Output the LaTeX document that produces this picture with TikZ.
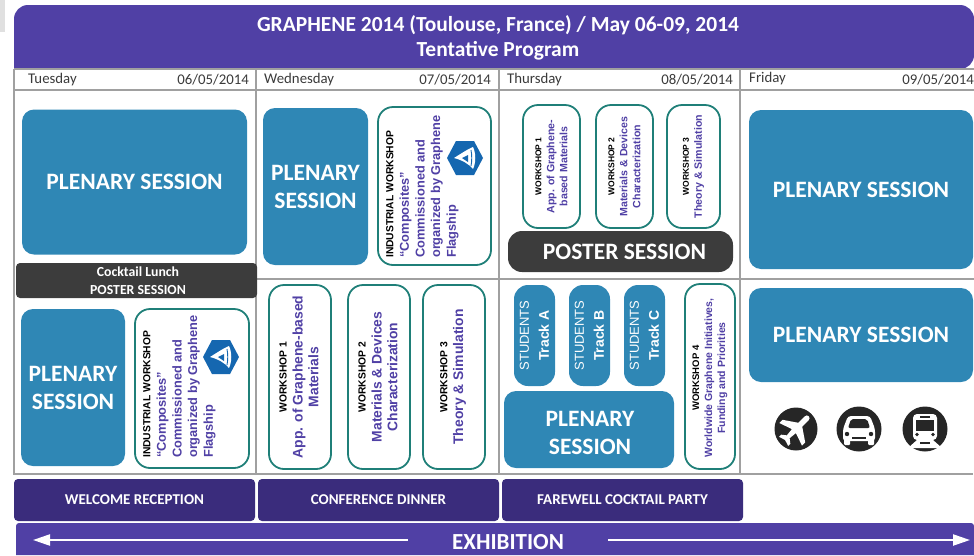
\documentclass[tikz,border=0pt]{standalone}
\usepackage{fontspec}
\setmainfont{Carlito}
\newfontfamily\arialf{Liberation Sans}
\usetikzlibrary{arrows.meta}
\definecolor{plen}{HTML}{2F87B5}
\definecolor{teal2}{HTML}{1F7F78}
\definecolor{dark}{HTML}{3C3C3C}
\definecolor{deep}{HTML}{3A2C7C}
\definecolor{head}{HTML}{5040A5}
\definecolor{txtp}{HTML}{5040A5}
\definecolor{gridc}{HTML}{A0A0A0}
\definecolor{daytxt}{HTML}{3A3A3A}
\definecolor{logob}{HTML}{1567B0}
\definecolor{iconc}{HTML}{262626}
\tikzset{
  gridline/.style={draw=gridc,line width=1.1pt},
  plenary/.style={fill=plen,rounded corners=12pt,text=white,font=\bfseries\fontsize{23.5}{28}\selectfont,align=center,inner sep=0pt},
  wsbox/.style={draw=teal2,line width=1.8pt,fill=white,rounded corners=15pt,inner sep=0pt,align=center},
  student/.style={fill=plen,rounded corners=14pt,inner sep=0pt,align=center,text=white,rotate=90,font=\arialf\fontsize{13}{20}\selectfont},
  deepbox/.style={fill=deep,rounded corners=4pt,text=white,inner sep=0pt,font=\bfseries\fontsize{15}{18}\selectfont},
  daytext/.style={text=daytxt,font=\fontsize{14.8}{17}\selectfont,inner sep=0pt},
  wstext/.style={rotate=90,align=center,inner sep=0pt,text=txtp,font=\arialf\bfseries\fontsize{13.9}{15.8}\selectfont},
  wsmall/.style={rotate=90,align=center,inner sep=0pt,text=txtp,font=\arialf\bfseries\fontsize{10.6}{13}\selectfont},
  iwtext/.style={rotate=90,align=left,anchor=north west,inner sep=0pt,text=txtp,font=\arialf\bfseries\fontsize{12.8}{15.6}\selectfont},
  icon/.style={circle,fill=iconc,inner sep=0pt,minimum size=43pt},
  hexlogo/.style={fill=logob},
}
\newcommand{\wh}[2][10.3]{{\color{black}\fontsize{#1}{10}\selectfont #2}}
\newcommand{\logohex}[2]{%
  \begin{scope}[shift={(#1,#2)}]
    \fill[hexlogo] (-18,0)--(-9,-17)--(9,-17)--(18,0)--(9,17)--(-9,17)--cycle;
    \fill[white] (-11,0) .. controls (-3,-5) and (3,-9) .. (8,-11) .. controls (11,-5) and (11,5) .. (8,11) .. controls (4,6) and (-3,2) .. (-11,0) -- cycle;
    \fill[logob] (-3,0) -- (3,-3) -- (3,4) -- cycle;
    \draw[logob,line width=.9pt] (6,-8) .. controls (7,-3) and (7,3) .. (6,8);
  \end{scope}}
\begin{document}
\begin{tikzpicture}[x=1pt,y=-1pt]
\useasboundingbox (0,0) rectangle (974,555);
\fill[black!12] (0,0) rectangle (5,32);

% header
\fill[head] (14,69) [rounded corners=14pt] -- (14,5) -- (974,5) -- (974,69) [sharp corners] -- cycle;
\node[text=white,align=center,inner sep=0pt,font=\bfseries\fontsize{21.5}{25}\selectfont] (title) at (498,38)
  {GRAPHENE 2014 (Toulouse, France) / May 06-09, 2014\\Tentative Program};

% grid
\draw[gridline] (14,69) -- (14,474) -- (973,474);
\draw[gridline] (14,69) -- (974,69);
\draw[gridline] (14,90) -- (974,90);
\draw[gridline] (257,279) -- (974,279);
\draw[gridline] (256,69) -- (256,474);
\draw[gridline] (499,69) -- (499,474);
\draw[gridline] (740,69) -- (740,474);

% day row
\node[daytext,anchor=west] (d1) at (28,80) {Tuesday};
\node[daytext,anchor=east] (e1) at (249,80) {06/05/2014};
\node[daytext,anchor=west] (d2) at (264,80) {Wednesday};
\node[daytext,anchor=east] (e2) at (491,80) {07/05/2014};
\node[daytext,anchor=west] (d3) at (507,80) {Thursday};
\node[daytext,anchor=east] (e3) at (733,80) {08/05/2014};
\node[daytext,anchor=west] (d4) at (749,79) {Friday};
\node[daytext,anchor=east] (e4) at (974,80) {09/05/2014};

% Tuesday
\node[plenary,minimum width=225pt,minimum height=145pt] (p1) at (134.5,182) {PLENARY SESSION};
\node[fill=dark,rounded corners=4pt,text=white,align=center,inner sep=0pt,minimum width=241pt,minimum height=35pt,font=\bfseries\fontsize{13.8}{17.5}\selectfont] (cock) at (136.5,280.5) {\hspace*{3pt}Cocktail Lunch\\\hspace*{3pt}POSTER SESSION};
\node[plenary,minimum width=104pt,minimum height=157pt] (p2) at (73,387.5) {PLENARY\\SESSION};
\node[wsbox,minimum width=114pt,minimum height=159pt] (iw1) at (192,388.5) {};
\node[iwtext] (iw1t) at (143,458) {\wh{INDUSTRIAL WORKSHOP}\\“Composites”\\Commissioned and\\organized by Graphene\\Flagship};
\logohex{221}{357}

% Wednesday
\node[plenary,minimum width=105pt,minimum height=157pt] (p3) at (315.5,186.5) {PLENARY\\SESSION};
\node[wsbox,minimum width=113pt,minimum height=158pt] (iw2) at (434.5,186) {};
\node[iwtext] (iw2t) at (386,258) {\wh{INDUSTRIAL WORKSHOP}\\“Composites”\\Commissioned and\\organized by Graphene\\Flagship};
\logohex{465}{158}

\node[wsbox,minimum width=62pt,minimum height=184pt] (w1) at (300,377) {};
\node[wstext] (w1t) at (299,377) {\wh{WORKSHOP 1}\\App. of Graphene-based\\Materials};
\node[wsbox,minimum width=62pt,minimum height=184pt] (w2) at (379,377) {};
\node[wstext] (w2t) at (378,377) {\wh{WORKSHOP 2}\\Materials \& Devices\\Characterization};
\node[wsbox,minimum width=62pt,minimum height=184pt] (w3) at (454,377) {};
\node[wstext] (w3t) at (453,377) {\wh{WORKSHOP 3}\\Theory \& Simulation};

% Thursday
\node[wsbox,minimum width=57pt,minimum height=123pt] (t1) at (551.5,166.5) {};
\node[wsmall] (t1t) at (551.5,166.5) {\wh[8.5]{WORKSHOP 1}\\App. of Graphene-\\based Materials};
\node[wsbox,minimum width=57pt,minimum height=123pt] (t2) at (624.5,166.5) {};
\node[wsmall] (t2t) at (624.5,166.5) {\wh[8.5]{WORKSHOP 2}\\Materials \& Devices\\Characterization};
\node[wsbox,minimum width=53pt,minimum height=123pt] (t3) at (693.5,166.5) {};
\node[wsmall] (t3t) at (693.5,166.5) {\wh[8.5]{WORKSHOP 3}\\Theory \& Simulation};
\node[fill=dark,rounded corners=14pt,text=white,inner sep=0pt,minimum width=225pt,minimum height=41pt,font=\bfseries\fontsize{23.5}{28}\selectfont] (post) at (620.5,251.5) {\hspace*{8pt}POSTER SESSION};

\node[student,minimum width=101pt,minimum height=41pt] (s1) at (534.5,335.5) {STUDENTS\\\fontsize{14}{20}\selectfont\textbf{Track A}};
\node[student,minimum width=101pt,minimum height=41pt] (s2) at (589.5,335.5) {STUDENTS\\\fontsize{14}{20}\selectfont\textbf{Track B}};
\node[student,minimum width=101pt,minimum height=41pt] (s3) at (644.5,335.5) {STUDENTS\\\fontsize{14}{20}\selectfont\textbf{Track C}};
\node[plenary,minimum width=170pt,minimum height=77pt] (p4) at (589,429.5) {};
\node[text=white,font=\bfseries\fontsize{23.5}{28}\selectfont,align=center,inner sep=0pt] (p4t) at (590,433) {PLENARY\\SESSION};
\node[wsbox,minimum width=50pt,minimum height=185pt] (w4) at (710,376.5) {};
\node[wsmall,anchor=center,font=\arialf\bfseries\fontsize{10.5}{13}\selectfont] (w4t) at (710,378) {\wh[9.5]{WORKSHOP 4}\\Worldwide Graphene Initiatives,\\Funding and Priorities};

% Friday
\node[plenary,minimum width=224pt,minimum height=159pt] (p5) at (861,189.5) {PLENARY SESSION};
\node[plenary,minimum width=224pt,minimum height=94pt] (p6) at (861,335) {PLENARY SESSION};

\node[icon] (plane) at (796,429) {};
\begin{scope}[shift={(plane.center)},rotate=-45]
  \fill[white] (-2.8,-15) .. controls (-2.8,-19) and (2.8,-19) .. (2.8,-15) -- (2.8,-6) -- (16,3) -- (16,7.5) -- (2.8,3) -- (2,11) -- (6.5,14.5) -- (6.5,17.5) -- (0,15.5) -- (-6.5,17.5) -- (-6.5,14.5) -- (-2,11) -- (-2.8,3) -- (-16,7.5) -- (-16,3) -- (-2.8,-6) -- cycle;
\end{scope}
\node[icon,minimum size=45pt] (car) at (859,429) {};
\begin{scope}[shift={(car.center)}]
  \fill[white,rounded corners=3pt] (-16,12) -- (-16,0) -- (-11,-13) -- (11,-13) -- (16,0) -- (16,12) -- cycle;
  \fill[white,rounded corners=1pt] (-15,10) rectangle (-9,16);
  \fill[white,rounded corners=1pt] (9,10) rectangle (15,16);
  \fill[iconc,rounded corners=2pt] (-11,-1) -- (-8,-10) -- (8,-10) -- (11,-1) -- cycle;
  \fill[iconc] (-12,5) circle (2.2pt);
  \fill[iconc] (12,5) circle (2.2pt);
  \fill[iconc] (-7,8) rectangle (7,10);
\end{scope}
\node[icon,minimum size=45pt] (train) at (925,429) {};
\begin{scope}[shift={(train.center)}]
  \fill[white,rounded corners=4pt] (-12,11) rectangle (12,-15);
  \fill[iconc] (-9,-9) rectangle (9,2);
  \fill[iconc] (-5,-13.5) rectangle (5,-11);
  \fill[iconc] (-8,5.5) circle (1.8pt);
  \fill[iconc] (8,5.5) circle (1.8pt);
  \fill[white] (-8,11) -- (8,11) -- (17,19) -- (-17,19) -- cycle;
  \fill[iconc] (-5,13) rectangle (5,14.5);
\end{scope}

% evening row
\node[deepbox,minimum width=241pt,minimum height=42pt] (ev1) at (134.5,500) {WELCOME RECEPTION};
\node[deepbox,minimum width=241pt,minimum height=42pt] (ev2) at (378.5,500) {CONFERENCE DINNER};
\node[deepbox,minimum width=241pt,minimum height=42pt] (ev3) at (622.5,500) {FAREWELL COCKTAIL PARTY};

% exhibition
\fill[head] (16,555) [rounded corners=3pt] -- (16,523) -- (974,523) [sharp corners] -- (974,555) -- cycle;
\node[text=white,inner sep=0pt,font=\bfseries\fontsize{23}{28}\selectfont] (exh) at (508,542.5) {EXHIBITION};
\coordinate (la) at (408,540);
\coordinate (lb) at (33,540);
\coordinate (ra) at (608,540);
\coordinate (rb) at (970,540);
\draw[white,line width=2.2pt,-{Triangle[length=17pt,width=11pt]}] (la) -- (lb);
\draw[white,line width=2.2pt,-{Triangle[length=17pt,width=11pt]}] (ra) -- (rb);
\end{tikzpicture}
\end{document}
